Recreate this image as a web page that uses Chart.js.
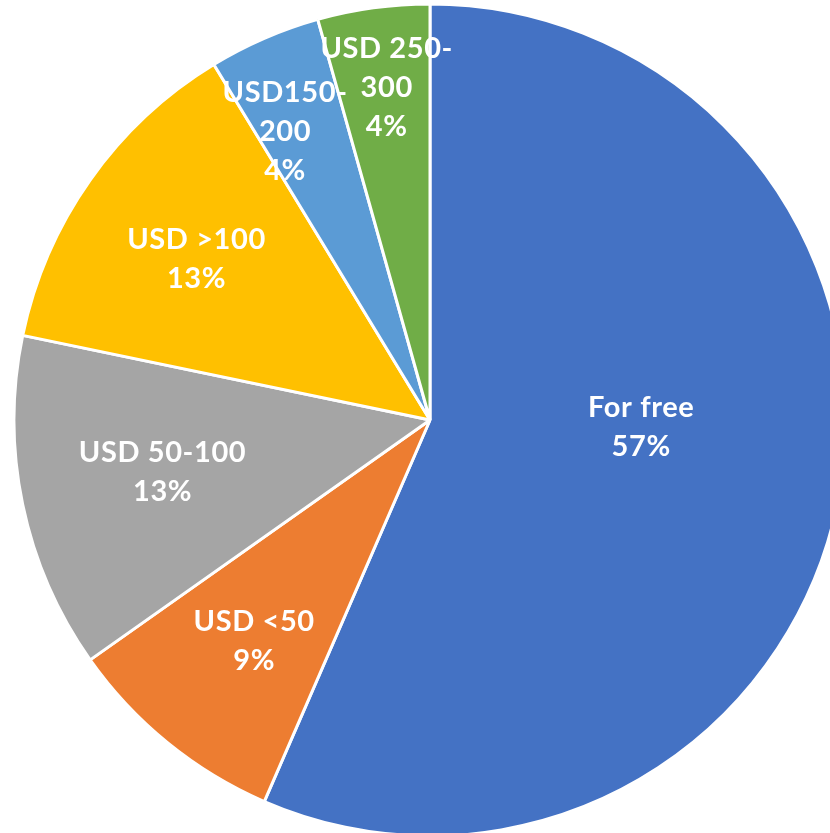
<!DOCTYPE html>
<html>
<head>
<meta charset="utf-8">
<script src="https://cdn.jsdelivr.net/npm/chart.js@4"></script>
<style>
  html, body { margin: 0; padding: 0; background: #ffffff; overflow: hidden; width: 830px; height: 833px; }
  #wrap { position: absolute; left: 0; top: 0; width: 860px; height: 840px; }
</style>
</head>
<body>
<div id="wrap"><canvas id="c" width="860" height="840"></canvas></div>
<script>
// ---- data ----
const categories = ["For free", "USD <50", "USD 50-100", "USD >100", "USD150-200", "USD 250-300"];
const counts = [13, 2, 3, 3, 1, 1];
const labelLines = [["For free"], ["USD <50"], ["USD 50-100"], ["USD >100"], ["USD150-", "200"], ["USD 250-", "300"]];
const colors = ["#4472C4", "#ED7D31", "#A5A5A5", "#FFC000", "#5B9BD5", "#70AD47"];

// label placement (fraction of radius, angle offset in degrees from slice mid-angle)
const labelRadiusFrac = [0.508, 0.68, 0.655, 0.682, 0.776, 0.805];
const labelAngleOffset = [-9.8, -0.7, 0.7, -0.6, -3.2, 0.4];

const total = counts.reduce((a, b) => a + b, 0);

const labelPlugin = {
  id: 'sliceLabels',
  afterDatasetsDraw(chart) {
    const ctx = chart.ctx;
    const meta = chart.getDatasetMeta(0);
    ctx.save();
    ctx.fillStyle = '#ffffff';
    ctx.font = 'bold 29px Lato';
    if ('letterSpacing' in ctx) ctx.letterSpacing = '0.6px';
    ctx.textAlign = 'center';
    ctx.textBaseline = 'middle';
    const lh = 39;
    meta.data.forEach((arc, i) => {
      const p = arc.getProps(['x', 'y', 'startAngle', 'endAngle', 'outerRadius'], true);
      const mid = (p.startAngle + p.endAngle) / 2 + labelAngleOffset[i] * Math.PI / 180;
      const r = p.outerRadius * labelRadiusFrac[i];
      const cx = p.x + Math.cos(mid) * r;
      const cy = p.y + Math.sin(mid) * r;
      const pct = Math.round(counts[i] / total * 100) + '%';
      const lines = labelLines[i].concat([pct]);
      const top = cy - (lines.length - 1) * lh / 2;
      lines.forEach((t, k) => ctx.fillText(t, cx, top + k * lh));
    });
    ctx.restore();
  }
};

new Chart(document.getElementById('c'), {
  type: 'pie',
  data: {
    labels: categories,
    datasets: [{
      data: counts,
      backgroundColor: colors,
      borderColor: '#ffffff',
      borderWidth: 3
    }]
  },
  options: {
    responsive: false,
    animation: false,
    radius: 416,
    layout: { padding: 0 },
    plugins: {
      legend: { display: false },
      tooltip: { enabled: false }
    }
  },
  plugins: [labelPlugin]
});
</script>
</body>
</html>
